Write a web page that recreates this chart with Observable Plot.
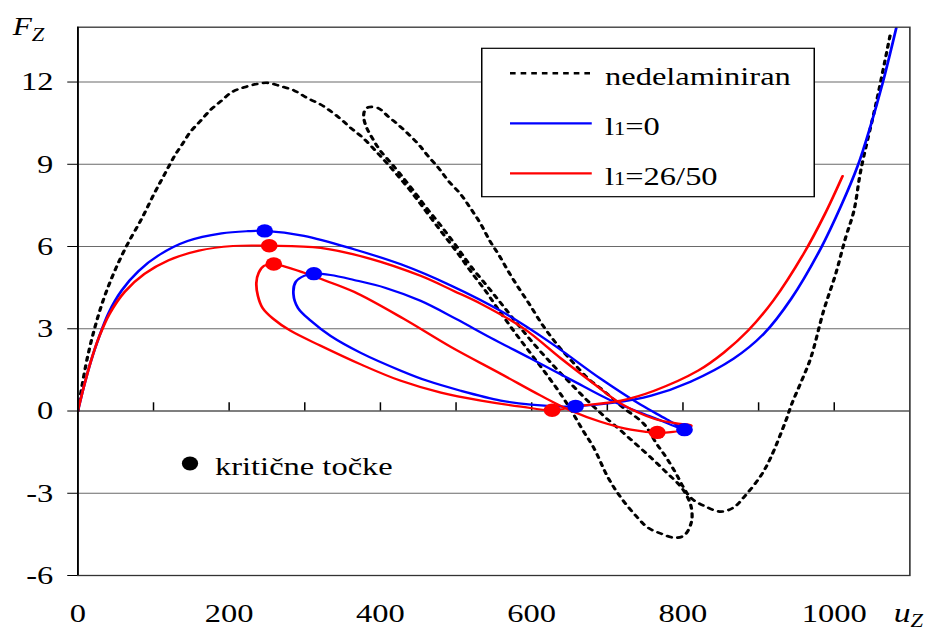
<!DOCTYPE html>
<html><head><meta charset="utf-8">
<script src="https://cdn.jsdelivr.net/npm/d3@7"></script>
<script src="https://cdn.jsdelivr.net/npm/@observablehq/plot@0.6"></script>
<style>
html,body{margin:0;padding:0;background:#fff;}
#chart{width:930px;height:633px;overflow:hidden;}
#chart svg{transform:scaleX(1.25);transform-origin:0 0;display:block;}
</style></head><body><div id="chart"></div>
<script>
// ---- data: [u_Z, F_Z] along each equilibrium path ----
const plainCurve = [[0,0],[6,1],[13,2],[22,3],[33,4],[47,5],[64,6],[85,7.05],[102,7.99],[111,8.45],[120,8.91],[129,9.36],[138,9.73],[149,10.19],[162,10.58],[176,11.0],[189,11.3],[204,11.64],[220,11.81],[237,11.93],[251,11.97],[268,11.85],[286,11.69],[303,11.42],[321,11.18],[334,10.94],[348,10.64],[361,10.32],[377,9.96],[400,9.30],[420,8.68],[440,8.02],[460,7.29],[480,6.56],[500,5.84],[519,5.11],[539,4.38],[559,3.58],[579,2.82],[599,2.09],[619,1.36],[639,0.59],[654,-0.06],[668,-0.72],[682,-1.34],[701,-2.43],[718,-3.16],[740,-3.89],[754,-4.26],[771,-4.47],[788,-4.62],[801,-4.55],[811,-4.07],[811,-3.52],[805,-3.09],[795,-2.69],[780,-2.29],[762,-1.81],[740,-1.26],[718,-0.72],[695,-0.17],[674,0.37],[652,0.99],[629,1.65],[605,2.38],[583,3.11],[562,3.84],[541,4.56],[519,5.30],[500,6.03],[480,6.76],[461,7.41],[444,8.03],[428,8.58],[414,9.05],[400,9.49],[390,9.92],[382,10.32],[378,10.69],[379,10.94],[384,11.08],[397,11.05],[410,10.75],[424,10.43],[437,10.10],[450,9.74],[463,9.30],[477,8.86],[490,8.39],[506,7.91],[519,7.40],[532,6.85],[545,6.19],[556,5.72],[569,5.10],[582,4.52],[596,3.94],[615,3.11],[635,2.38],[655,1.76],[675,1.18],[695,0.74],[721,0.12],[748,-0.46],[765,-1.19],[778,-1.70],[791,-2.29],[801,-2.80],[810,-3.16],[827,-3.45],[850,-3.67],[867,-3.52],[880,-3.16],[903,-2.36],[916,-1.70],[936,-0.35],[944,0.27],[957,1.11],[969,1.94],[986,3.66],[1002,5.01],[1015,6.32],[1026,7.30],[1035,8.76],[1056,11.31],[1075,13.86]];

const blueCurve = [[0,0],[8,0.9],[17,1.8],[28,2.7],[41,3.6],[58,4.4],[80,5.1],[108,5.7],[145,6.2],[190,6.48],[225,6.56],[247,6.57],[299,6.39],[365,5.90],[427,5.35],[493,4.58],[559,3.65],[625,2.49],[691,1.18],[744,0.23],[777,-0.28],[802,-0.68],[758,-0.21],[705,0.38],[652,1.14],[599,1.91],[546,2.67],[500,3.36],[453,4.02],[407,4.49],[365,4.78],[334,4.96],[312,5.01],[299,4.93],[288,4.71],[285,4.27],[291,3.76],[308,3.29],[334,2.74],[374,2.12],[427,1.47],[462,1.10],[506,0.74],[559,0.38],[599,0.23],[642,0.16],[658,0.17],[709,0.30],[758,0.56],[810,1.07],[867,1.91],[907,2.82],[943,4.09],[982,5.92],[1009,7.48],[1031,8.94],[1048,10.40],[1064,11.96],[1082,13.97]];

const redCurve = [[0,0],[8,0.9],[17,1.8],[28,2.7],[42,3.55],[62,4.35],[88,5.0],[120,5.5],[160,5.85],[205,6.02],[253,6.03],[321,5.95],[387,5.55],[453,4.93],[497,4.38],[533,3.91],[590,3.00],[639,1.91],[682,1.00],[718,0.27],[762,-0.28],[796,-0.47],[811,-0.53],[804,-0.68],[784,-0.77],[767,-0.79],[731,-0.68],[691,-0.39],[652,0.01],[612,0.56],[559,1.36],[493,2.34],[431,3.36],[365,4.35],[321,4.82],[299,5.04],[259,5.36],[246,5.29],[239,5.04],[236,4.68],[238,4.20],[244,3.77],[258,3.37],[281,2.93],[321,2.38],[374,1.70],[427,1.10],[480,0.67],[533,0.38],[586,0.16],[627,0.03],[665,0.19],[718,0.38],[762,0.74],[820,1.47],[854,2.13],[886,2.93],[920,4.05],[960,5.76],[987,7.15],[1011,8.57]];

// critical points
const blueCritical = [[247,6.57],[312,5.01],[658,0.17],[802,-0.68]];
const redCritical  = [[253,6.03],[259,5.36],[627,0.03],[766,-0.78]];

// ticks
const yTicks = [-6,-3,0,3,6,9,12];
const yGrid = [-3,3,6,9,12];
const xTickLabels = [0,200,400,600,800,1000];
const xMinorTicks = [100,200,300,400,500,600,700,800,900,1000];

const legendItems = ["nedelaminiran","l1=0","l1=26/50"];
const annotationText = "kritične točke";

// ---- chart ----
const FONT = "'Liberation Serif','Times New Roman',Times,serif";
const K = 1.25;              // horizontal stretch of the original picture
const W = 930 / K;
const toObj = a => a.map(([u,f]) => ({u, f}));

const plot = Plot.plot({
  width: W, height: 633,
  marginTop: 26.7, marginBottom: 58, marginLeft: 61.8, marginRight: W - 727.4,
  x: {domain: [0, 1100], label: null},
  y: {domain: [-6, 14], label: null},
  style: {fontFamily: FONT, fontSize: "26px", color: "#000", background: "#fff", overflow: "visible"},
  marks: [
    Plot.ruleY(yGrid, {stroke: "#6a6a6a", strokeWidth: 1.1}),
    Plot.ruleY([0], {stroke: "#000", strokeWidth: 1.1}),
    Plot.ruleX(xMinorTicks, {x: d => d, y1: 0, y2: 0.3, stroke: "#000", strokeWidth: 1.2}),
    Plot.line(toObj(plainCurve), {x: "u", y: "f", stroke: "#000", strokeWidth: 2.6, strokeDasharray: "3.5 5", curve: "catmull-rom", clip: true}),
    Plot.line(toObj(blueCurve), {x: "u", y: "f", stroke: "#0000ff", strokeWidth: 2.2, curve: "catmull-rom", clip: true}),
    Plot.line(toObj(redCurve), {x: "u", y: "f", stroke: "#ff0000", strokeWidth: 2.2, curve: "catmull-rom", clip: true}),
    Plot.dot(toObj(blueCritical), {x: "u", y: "f", r: 6.7, fill: "#0000ff", stroke: "none"}),
    Plot.dot(toObj(redCritical), {x: "u", y: "f", r: 6.7, fill: "#ff0000", stroke: "none"}),
    Plot.frame({stroke: "#333", strokeWidth: 1.3}),
    Plot.ruleX([0], {stroke: "#000", strokeWidth: 1.4}),
    Plot.axisY({ticks: yTicks, tickSize: 8, tickPadding: 11.6, fontSize: 26, label: null, tickFormat: d => String(d)}),
    Plot.axisX({ticks: xTickLabels, tickSize: 0, tickPadding: 28, fontSize: 26, label: null, tickFormat: d => String(d)})
  ]
});
document.getElementById("chart").appendChild(plot);

// ---- legend, annotation and axis titles ----
const svg = d3.select(plot);
const g = svg.append("g").attr("font-family", FONT).attr("font-size", 26)
  .attr("fill", "#000").attr("text-anchor", "start");
g.append("rect").attr("x", 385.4).attr("y", 48.3).attr("width", 266).attr("height", 148.4)
  .attr("fill", "#fff").attr("stroke", "#000").attr("stroke-width", 1.2);
const legendStyles = [
  {stroke: "#000", dash: "4.5 4", width: 2.6},
  {stroke: "#0000ff", dash: null, width: 2.2},
  {stroke: "#ff0000", dash: null, width: 2.2}
];
legendItems.forEach((label, i) => {
  const yLine = 73.3 + i * 50, yText = 85 + i * 50;
  const st = legendStyles[i];
  const ln = g.append("line").attr("x1", 408).attr("x2", 473.4).attr("y1", yLine).attr("y2", yLine)
    .attr("stroke", st.stroke).attr("stroke-width", st.width);
  if (st.dash) ln.attr("stroke-dasharray", st.dash);
  const t = g.append("text").attr("x", 484).attr("y", yText);
  if (label.startsWith("l1")) {
    t.append("tspan").text("l");
    t.append("tspan").attr("font-size", 18).text("1");
    t.append("tspan").text(label.slice(2));
  } else t.text(label);
});
g.append("ellipse").attr("cx", 152).attr("cy", 463.5).attr("rx", 6.5).attr("ry", 7).attr("fill", "#000");
g.append("text").attr("x", 172).attr("y", 475).text(annotationText);

const fz = g.append("text").attr("x", 10.2).attr("y", 35).attr("font-style", "italic").attr("font-size", 25);
fz.append("tspan").text("F");
fz.append("tspan").attr("font-size", 18).attr("dy", 6.5).text("Z");
const uz = g.append("text").attr("x", 715).attr("y", 622).attr("font-style", "italic").attr("font-size", 27);
uz.append("tspan").text("u");
uz.append("tspan").attr("font-size", 18).attr("dy", 5).text("Z");
</script>
</body></html>
